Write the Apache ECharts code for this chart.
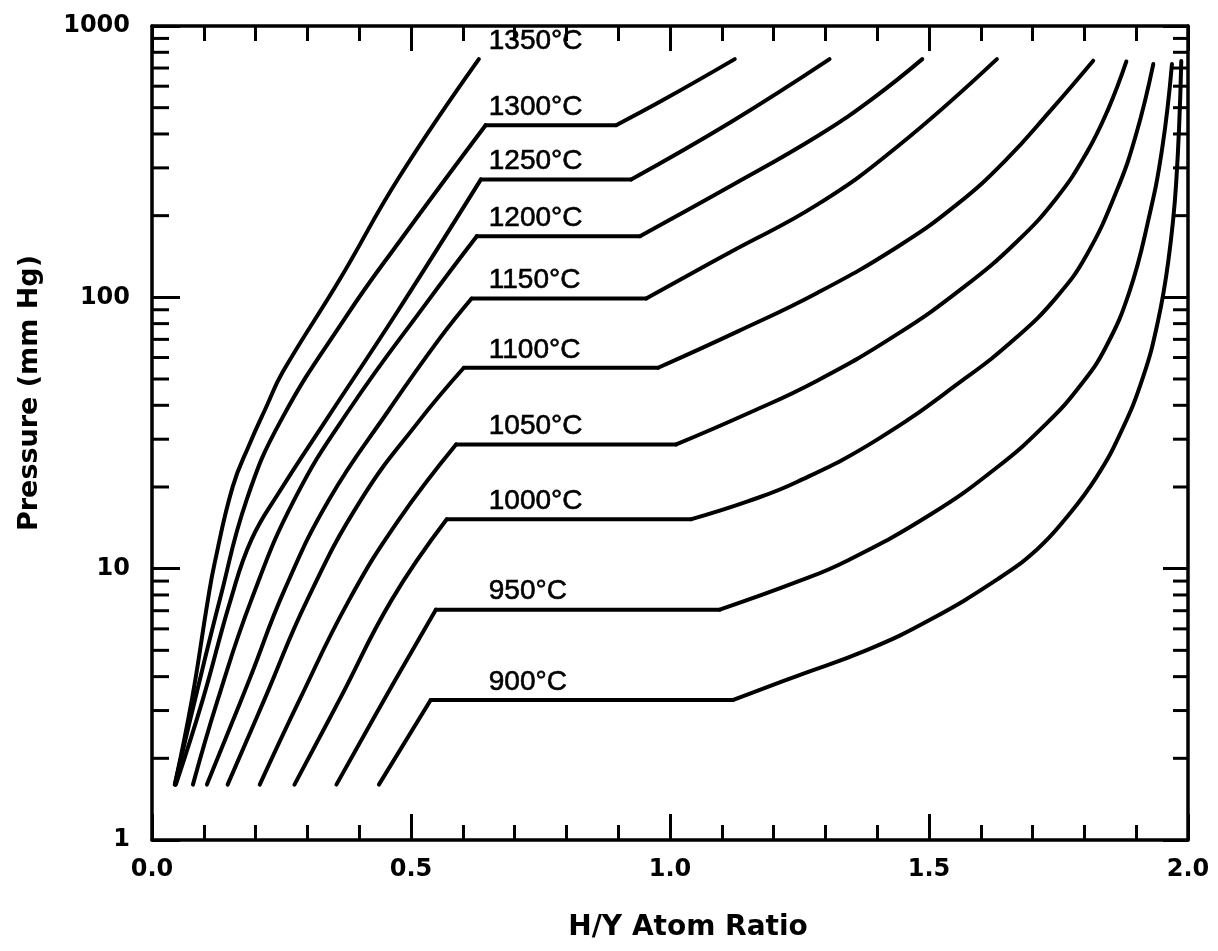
<!DOCTYPE html>
<html>
<head>
<meta charset="utf-8">
<title>Y–H isotherms</title>
<script src="https://cdn.jsdelivr.net/npm/echarts@6/dist/echarts.min.js"></script>
<style>
  html, body { margin: 0; padding: 0; background: #fff; }
  #chart { width: 1218px; height: 951px; }
</style>
</head>
<body>
<div id="chart"></div>
<script>
// Hydrogen dissociation pressure vs. H/Y atom ratio, one isotherm per temperature.
// Each point is [H/Y atom ratio, pressure in mm Hg].
const temperatures = ['1350°C', '1300°C', '1250°C', '1200°C', '1150°C',
                      '1100°C', '1050°C', '1000°C', '950°C', '900°C'];

const iso1350 = [[0.044,1.6],[0.077,3.29],[0.108,7.69],[0.121,10.5],[0.156,20.1],[0.188,28.7],
                 [0.221,39.6],[0.252,52.9],[0.362,116],[0.477,277],[0.631,755]];
const iso1300 = [[0.044,1.6],[0.083,3.29],[0.131,7.69],[0.183,18.0],[0.250,35.5],[0.375,85.1],
                 [0.477,160],[0.644,431],[0.896,431],[0.990,538],[1.125,755]];
const iso1250 = [[0.046,1.6],[0.098,3.29],[0.152,7.69],[0.192,12.8],[0.246,19.2],[0.337,35.5],
                 [0.473,88.1],[0.635,272],[0.925,272],[1.117,442],[1.308,755]];
const iso1200 = [[0.079,1.6],[0.127,3.29],[0.192,7.69],[0.275,18.0],[0.381,38.6],[0.535,98.3],
                 [0.627,168],[0.942,168],[1.117,257],[1.285,393],[1.390,538],[1.487,755]];
const iso1150 = [[0.106,1.6],[0.188,3.90],[0.256,8.37],[0.342,18.0],[0.458,38.6],[0.554,70.0],
                 [0.617,99],[0.954,99],[1.117,147],[1.285,220],[1.438,358],[1.631,755]];
const iso1100 = [[0.146,1.6],[0.217,3.29],[0.300,7.69],[0.404,18.0],[0.515,34.9],[0.602,55],
                 [0.977,55],[1.131,74.9],[1.285,104],[1.438,153],[1.554,220],[1.650,323],
                 [1.737,494],[1.817,745]];
const iso1050 = [[0.208,1.6],[0.285,3.29],[0.381,7.69],[0.477,15.2],[0.587,28.7],[1.012,28.7],
                 [1.150,37.3],[1.285,49.4],[1.438,73.0],[1.567,109],[1.669,160],[1.746,232],
                 [1.804,340],[1.846,494],[1.881,740]];
const iso1000 = [[0.275,1.6],[0.362,3.29],[0.463,7.69],[0.569,15.2],[1.040,15.2],[1.150,17.7],
                 [1.246,20.9],[1.400,29.9],[1.567,49.8],[1.669,71.2],[1.746,100],[1.804,143],
                 [1.862,246],[1.900,400],[1.933,724]];
const iso950  = [[0.356,1.6],[0.448,3.29],[0.548,7.06],[1.096,7.06],[1.246,8.95],[1.342,10.7],
                 [1.502,15.8],[1.631,23.6],[1.727,34.3],[1.794,47.8],[1.842,65.9],[1.887,105],
                 [1.923,191],[1.950,352],[1.969,724]];
const iso900  = [[0.438,1.6],[0.538,3.28],[1.121,3.28],[1.246,4.03],[1.381,5.02],[1.502,6.48],
                 [1.631,9.11],[1.708,11.75],[1.765,15.4],[1.823,21.7],[1.871,32.0],[1.913,50.7],
                 [1.942,81.6],[1.962,136],[1.977,261],[1.987,743]];

const isotherms = [iso1350, iso1300, iso1250, iso1200, iso1150,
                   iso1100, iso1050, iso1000, iso950, iso900];

// Log-axis minor ticks (2..9 within each decade)
const yMinorTicks = [2,3,4,5,6,7,8,9, 20,30,40,50,60,70,80,90, 200,300,400,500,600,700,800,900];

const black = '#000';
const labelRatio = 0.65;   // H/Y position where the temperature tags start

// Index of the first point of the flat two-phase plateau, or -1 when there is none
function plateauStart(d) {
  for (let i = 0; i < d.length - 1; i++) {
    if (d[i][1] === d[i + 1][1]) return i;
  }
  return -1;
}

// Tag each isotherm at its plateau pressure (or at its top end if it has no plateau)
function tagPressure(d) {
  const i = plateauStart(d);
  return i >= 0 ? d[i][1] : d[d.length - 1][1];
}

// Split every isotherm into curved branches (smoothed) and the straight plateau
const lineSeries = [];
isotherms.forEach((d, k) => {
  const i = plateauStart(d);
  const parts = i >= 0
    ? [[d.slice(0, i + 1), true], [d.slice(i, i + 2), false], [d.slice(i + 1), true]]
    : [[d, true]];
  parts.forEach(([seg, curved]) => {
    lineSeries.push({
      type: 'line',
      name: temperatures[k],
      data: seg,
      smooth: curved ? 0.45 : false,
      symbol: 'none',
      showSymbol: false,
      silent: true,
      z: 3,
      lineStyle: { color: black, width: 4, cap: 'round', join: 'round' }
    });
  });
});

const tagSeries = {
  type: 'scatter',
  silent: true,
  symbolSize: 0.1,
  itemStyle: { color: 'rgba(0,0,0,0)' },
  z: 5,
  data: isotherms.map((d, i) => ({ name: temperatures[i], value: [labelRatio, tagPressure(d)] })),
  label: {
    show: true,
    position: 'right',
    distance: 0,
    offset: [0, -18],
    formatter: p => p.name,
    color: black,
    opacity: 1,
    fontFamily: 'Liberation Sans',
    fontSize: 28,
    textBorderColor: black,
    textBorderWidth: 0.6
  }
};

const minorTickSeries = {
  type: 'custom',
  coordinateSystem: 'cartesian2d',
  xAxisIndex: 0,
  yAxisIndex: 0,
  silent: true,
  clip: false,
  z: 4,
  data: yMinorTicks.map(v => [0, v]),
  encode: { x: 0, y: 1 },
  renderItem(params, api) {
    const v = api.value(1);
    const l = api.coord([0, v]);
    const r = api.coord([2, v]);
    return {
      type: 'group',
      children: [
        { type: 'line', shape: { x1: l[0], y1: l[1], x2: l[0] + 17, y2: l[1] },
          style: { stroke: black, lineWidth: 3 } },
        { type: 'line', shape: { x1: r[0], y1: r[1], x2: r[0] - 15, y2: r[1] },
          style: { stroke: black, lineWidth: 3 } }
      ]
    };
  }
};

const axisLineStyle = { show: true, onZero: false, lineStyle: { color: black, width: 3.5 } };
const tickLabelStyle = { color: black, fontFamily: 'DejaVu Sans', fontWeight: 'bold', fontSize: 24 };

const option = {
  animation: false,
  backgroundColor: '#fff',
  grid: { left: 152, top: 26, width: 1036, height: 814 },
  xAxis: [
    {
      type: 'value', min: 0, max: 2, interval: 0.5, position: 'bottom',
      axisLine: axisLineStyle,
      axisTick: { show: true, inside: true, length: 26, lineStyle: { color: black, width: 3 } },
      minorTick: { show: true, splitNumber: 5, length: 15, lineStyle: { color: black, width: 3 } },
      splitLine: { show: false }, minorSplitLine: { show: false },
      axisLabel: Object.assign({ margin: 18, formatter: v => v.toFixed(1) }, tickLabelStyle)
    },
    {
      type: 'value', min: 0, max: 2, interval: 0.5, position: 'top',
      axisLine: axisLineStyle,
      axisTick: { show: true, inside: true, length: 25, lineStyle: { color: black, width: 3 } },
      minorTick: { show: true, splitNumber: 5, length: 15, lineStyle: { color: black, width: 3 } },
      splitLine: { show: false }, minorSplitLine: { show: false },
      axisLabel: { show: false }
    }
  ],
  yAxis: [
    {
      type: 'log', logBase: 10, min: 1, max: 1000, position: 'left',
      axisLine: axisLineStyle,
      axisTick: { show: true, inside: true, length: 28, lineStyle: { color: black, width: 3 } },
      splitLine: { show: false },
      axisLabel: Object.assign({ margin: 22, formatter: v => String(Math.round(v)) }, tickLabelStyle)
    },
    {
      type: 'log', logBase: 10, min: 1, max: 1000, position: 'right',
      axisLine: axisLineStyle,
      axisTick: { show: true, inside: true, length: 25, lineStyle: { color: black, width: 3 } },
      splitLine: { show: false },
      axisLabel: { show: false }
    }
  ],
  graphic: [
    {
      type: 'text', x: 688, y: 928, silent: true,
      style: { text: 'H/Y Atom Ratio', fill: black, font: 'bold 28px "DejaVu Sans"',
               textAlign: 'center', textVerticalAlign: 'middle' }
    },
    {
      type: 'text', x: 30, y: 393, rotation: Math.PI / 2, silent: true,
      style: { text: 'Pressure (mm Hg)', fill: black, font: 'bold 27px "DejaVu Sans"',
               textAlign: 'center', textVerticalAlign: 'middle' }
    }
  ],
  series: [...lineSeries, tagSeries, minorTickSeries]
};

const chart = echarts.init(document.getElementById('chart'));
chart.setOption(option);
</script>
</body>
</html>
